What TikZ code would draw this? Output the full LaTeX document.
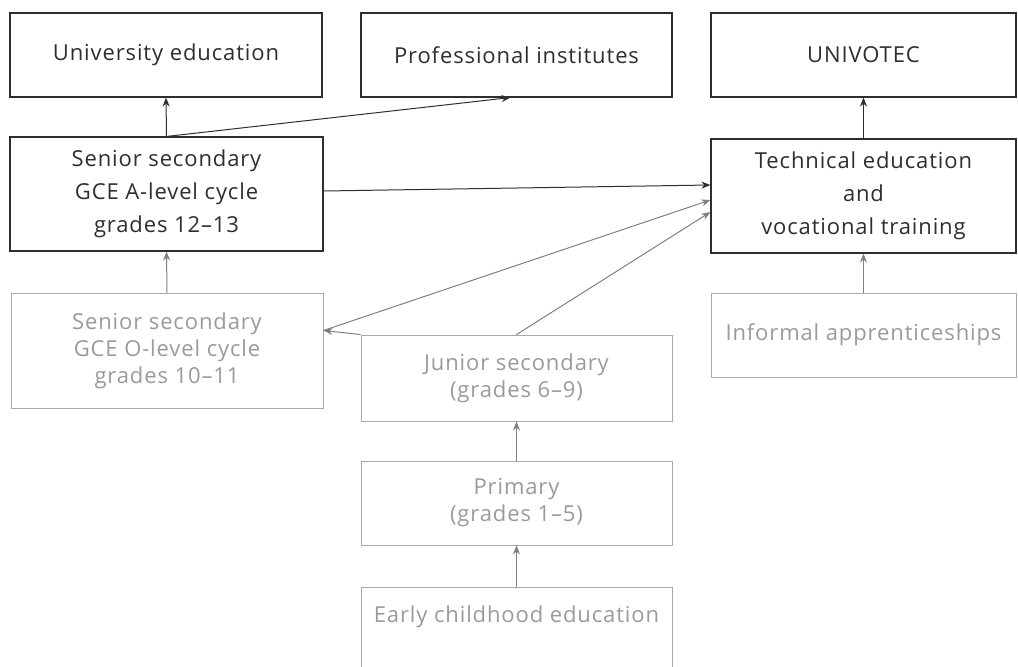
\documentclass[tikz,border=0pt]{standalone}
\usepackage{fontspec}
\setmainfont{Open Sans}[LetterSpace=4]
\usetikzlibrary{arrows.meta}
\definecolor{dk}{HTML}{2E2E2E}
\definecolor{lt}{HTML}{A8A8A8}
\definecolor{lttext}{HTML}{9A9A9A}
\tikzset{
  box/.style={draw=dk, line width=1.1pt, text=dk, align=center, inner sep=0pt,
    font=\fontsize{22}{33}\selectfont},
  pale/.style={box, draw=lt, text=lttext, line width=0.9pt, font=\fontsize{22}{27}\selectfont},
  paletext/.style={text=lttext, inner sep=0pt, font=\fontsize{22}{27}\selectfont},
  arr/.style={draw=dk, line width=1pt, -{Stealth[length=9pt,width=7pt]}},
  parr/.style={arr, draw=gray},
}
\begin{document}
\begin{tikzpicture}[x=1pt,y=-1pt]
\useasboundingbox (0,0) rectangle (1018,667);
\node[box, minimum width=312pt, minimum height=84pt] (univ) at (166,55) {University education};
\node[box, minimum width=311pt, minimum height=84pt] (prof) at (516.5,55) {Professional institutes};
\node[box, minimum width=305pt, minimum height=84pt] (univo) at (863.5,55) {UNIVOTEC};
\node[box, minimum width=313pt, minimum height=114pt] (alev) at (166.5,194) {Senior secondary\\GCE A-level cycle\\grades 12--13};
\node[box, minimum width=305pt, minimum height=114pt] (tech) at (863.5,196) {Technical education\\and\\vocational training};
\node[pale, minimum width=312pt, minimum height=115pt] (olev) at (167,350.5) {Senior secondary\\GCE O-level cycle\\grades 10--11};
\node[pale, minimum width=311pt, minimum height=86pt] (jun) at (516.5,378) {Junior secondary\\(grades 6--9)};
\node[pale, minimum width=311pt, minimum height=84pt] (prim) at (516.5,503) {Primary\\(grades 1--5)};
\node[pale, minimum width=311pt, minimum height=88pt] (early) at (516.5,631) {};
\node[paletext] (earlyt) at (516.5,617) {Early childhood education};
\node[pale, minimum width=305pt, minimum height=84pt] (inf) at (863.5,335) {Informal apprenticeships};
% connectors
\draw[arr] (alev.north) -- (univ.south);
\draw[arr] (alev.north) -- ([xshift=-6pt]prof.south);
\draw[arr] (tech.north) -- (univo.south);
\draw[arr] ([yshift=3pt]alev.east) -- ([yshift=11pt]tech.west);
\coordinate (oe) at ([yshift=20pt]olev.east);
\draw[parr] (oe) -- ([yshift=-4pt]tech.west);
\draw[parr] (jun.north west) -- (oe);
\draw[parr] (jun.north) -- ([yshift=-16pt]tech.west);
\draw[parr] (olev.north) -- (alev.south);
\draw[parr] (inf.north) -- (tech.south);
\draw[parr] (prim.north) -- (jun.south);
\draw[parr] (early.north) -- (prim.south);
\end{tikzpicture}
\end{document}
